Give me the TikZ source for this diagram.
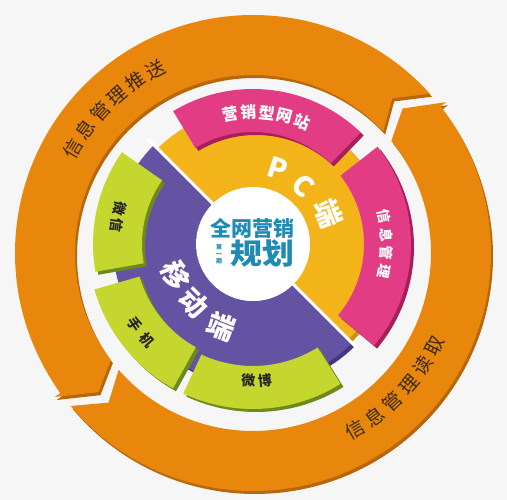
\documentclass[tikz,border=0pt]{standalone}
\usepackage{fontspec}
\newfontfamily\cjk{Noto Sans CJK SC}

\definecolor{paper}{HTML}{F6F6F6}
\definecolor{ringorange}{HTML}{E8870B}
\definecolor{ringside}{HTML}{B8660A}
\definecolor{ringtext}{HTML}{3A2A10}
\definecolor{pcyellow}{HTML}{F3B41A}
\definecolor{pcside}{HTML}{D08E0E}
\definecolor{mobpurple}{HTML}{6452A3}
\definecolor{mobside}{HTML}{463581}
\definecolor{segpink}{HTML}{E23C85}
\definecolor{pinkside}{HTML}{A81E5A}
\definecolor{seggreen}{HTML}{C5D72F}
\definecolor{greenside}{HTML}{6E8A1C}
\definecolor{hubblue}{HTML}{1E8BB5}

\tikzset{
  ringlabel/.style={font=\cjk\fontsize{19}{19}\selectfont, text=ringtext, inner sep=0pt},
  pinklabel/.style={font=\cjk\bfseries\fontsize{16}{16}\selectfont, text=white, inner sep=0pt},
  greenlabel/.style={font=\cjk\bfseries\fontsize{14}{14}\selectfont, text=black!85, inner sep=0pt},
  biglabel/.style={font=\cjk\bfseries\fontsize{28}{28}\selectfont, text=white, inner sep=0pt},
  hublabel/.style={font=\cjk\bfseries\fontsize{21}{21}\selectfont, text=hubblue, inner sep=0pt}
}

\begin{document}
\begin{tikzpicture}[x=1pt,y=1pt]
\useasboundingbox[fill=paper] (0,0) rectangle (507,500);
\coordinate (ring) at (253,247);
\coordinate (hub) at (253,256);

% Drawing outer ring: two arrows running anticlockwise
\begin{scope}[shift={(ring)}]
  \foreach \col/\dx/\dy in {ringside/2/-3, ringorange/0/0} {
    \fill[\col, shift={(\dx,\dy)}] (43:178) -- (48:208) -- (42:238)
      arc[start angle=42, end angle=216, radius=238] -- (216:245) -- (222:208)
      -- (217:178) arc[start angle=217, end angle=43, radius=178] -- cycle;
    \fill[\col, shift={(\dx,\dy)}] (221:178) -- (226:208) -- (220:238)
      arc[start angle=220, end angle=398, radius=238] -- (398:245) -- (404:208)
      -- (399:178) arc[start angle=399, end angle=221, radius=178] -- cycle;
  }
  % Marking ring texts
  \foreach \ch [count=\i, evaluate=\i as \a using {150-(\i-1)*6.4}] in {信,息,管,理,推,送}
    \node[ringlabel, rotate=\a-90] (push\i) at (\a:208) {\ch};
  \foreach \ch [count=\i, evaluate=\i as \a using {-60+(\i-1)*6.6}] in {信,息,管,理,读,取}
    \node[ringlabel, rotate=\a+90] (read\i) at (\a:204) {\ch};
\end{scope}

% Drawing inner wheel
\begin{scope}[shift={(hub)}]
  \fill[pcside, shift={(3,-3)}] (-45:57) -- (-45:135) arc[start angle=-45, end angle=135, radius=135] -- (135:57) arc[start angle=135, end angle=-45, radius=57] -- cycle;
  \fill[pcyellow] (-45:57) -- (-45:135) arc[start angle=-45, end angle=135, radius=135] -- (135:57) arc[start angle=135, end angle=-45, radius=57] -- cycle;
  \fill[mobside, shift={(3,-3)}] (135:57) -- (135:140) arc[start angle=135, end angle=315, radius=140] -- (315:57) arc[start angle=315, end angle=135, radius=57] -- cycle;
  \fill[mobpurple] (135:57) -- (135:140) arc[start angle=135, end angle=315, radius=140] -- (315:57) arc[start angle=315, end angle=135, radius=57] -- cycle;
  \draw[white, line width=3pt] (135:50) -- (135:148);
  \draw[white, line width=3pt] (-45:50) -- (-45:148);

  % Drawing outer pieces
  \foreach \a/\b/\ri/\ro/\col/\side in {46/121/112/155/segpink/pinkside,
      -40/38/111/158/segpink/pinkside, 145/190/111/160/seggreen/greenside,
      196/241/118/165/seggreen/greenside, 245/302/122/165/seggreen/greenside} {
    \fill[\side, shift={(3,-3)}] (\a:\ri) arc[start angle=\a, end angle=\b, radius=\ri] -- (\b:\ro) arc[start angle=\b, end angle=\a, radius=\ro] -- cycle;
    \fill[\col] (\a:\ri) arc[start angle=\a, end angle=\b, radius=\ri] -- (\b:\ro) arc[start angle=\b, end angle=\a, radius=\ro] -- cycle;
  }

  % Marking piece texts
  \foreach \ch [count=\i, evaluate=\i as \a using {100-(\i-1)*8}] in {营,销,型,网,站}
    \node[pinklabel, rotate=\a-90] (site\i) at (\a:132) {\ch};
  \foreach \ch [count=\i, evaluate=\i as \a using {12-(\i-1)*8}] in {信,息,管,理}
    \node[pinklabel, font=\cjk\bfseries\fontsize{14}{14}\selectfont, rotate=\a-90] (info\i) at (\a:134) {\ch};
  \foreach \ch/\a/\r [count=\i] in {微/165/138, 信/172/138}
    \node[greenlabel, rotate=\a+90] (wechat\i) at (\a:\r) {\ch};
  \foreach \ch/\a/\r [count=\i] in {手/214/143, 机/222/143}
    \node[greenlabel, rotate=\a+90] (phone\i) at (\a:\r) {\ch};
  \foreach \ch/\a/\r [count=\i] in {微/268/137, 博/275/137}
    \node[greenlabel, rotate=\a+90] (weibo\i) at (\a:\r) {\ch};

  % Marking quarter texts
  \foreach \ch/\a/\r [count=\i] in {P/72/79, C/49/77, 端/22/81}
    \node[biglabel, rotate=\a-90] (pc\i) at (\a:\r) {\ch};
  \foreach \ch/\a/\r [count=\i] in {移/202/83, 动/225/84, 端/249/89}
    \node[biglabel, rotate=\a+90] (mobile\i) at (\a:\r) {\ch};

  % Drawing centre disc
  \node[circle, fill=white, minimum size=114pt, inner sep=0pt] (disc) at (0,0) {};
\end{scope}

% Marking centre texts
\node[hublabel] (whole) at (252,272) {全网营销};
\node[hublabel, font=\cjk\bfseries\fontsize{29}{29}\selectfont, xscale=1.1] (plan) at (262,246) {规划};
\node[hublabel, font=\cjk\bfseries\fontsize{6}{7}\selectfont, align=center] (issue) at (219,246) {第\\一\\期};
\end{tikzpicture}
\end{document}
